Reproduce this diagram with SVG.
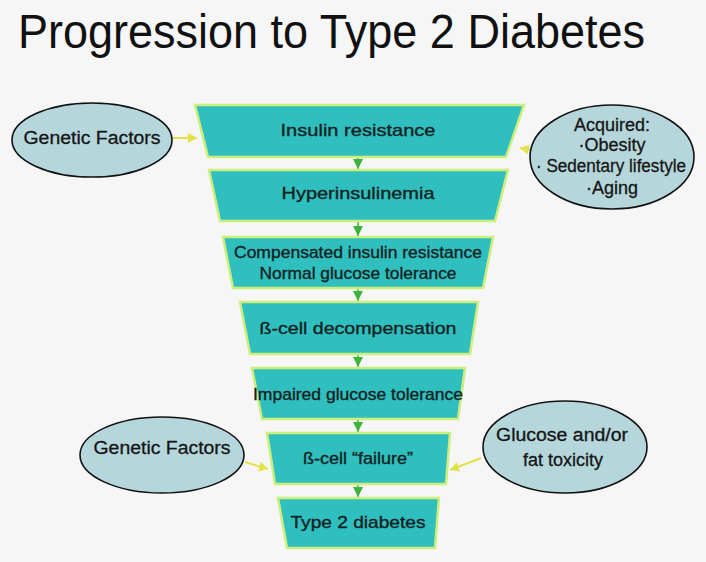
<svg xmlns="http://www.w3.org/2000/svg" width="706" height="562" viewBox="0 0 706 562">
<style>
.bg{fill:#f6f6f6}
.title{font-family:"Liberation Sans",Arial,sans-serif;font-size:48px;fill:#111}
.box{fill:#30bfbf;stroke:#cdee7a;stroke-width:2.5;stroke-linejoin:miter}
.bt{font-family:"Liberation Sans",Arial,sans-serif;font-size:17px;fill:#132222;text-anchor:middle;dominant-baseline:central;stroke:#132222;stroke-width:0.35}
.ell{fill:#b5d7dc;stroke:#111;stroke-width:1.6}
.et{font-family:"Liberation Sans",Arial,sans-serif;font-size:18px;fill:#151515;text-anchor:middle;dominant-baseline:central;stroke:#151515;stroke-width:0.3}
.g{stroke:#3cb43c;stroke-width:1.5;fill:none}
.y{stroke:#e2e24a;stroke-width:2;fill:none}
</style>
<defs>
<marker id="ag" markerUnits="userSpaceOnUse" markerWidth="12" markerHeight="12" refX="10" refY="5" orient="auto">
<path d="M0,0 L10,5 L0,10 Z" fill="#3cb43c"/>
</marker>
<marker id="ay" markerUnits="userSpaceOnUse" markerWidth="12" markerHeight="12" refX="9" refY="5" orient="auto">
<path d="M0,0 L9,5 L0,10 Z" fill="#e2e24a"/>
</marker>
</defs>
<rect class="bg" x="0" y="0" width="706" height="562"/>
<text class="title" x="18" y="48" textLength="627" lengthAdjust="spacingAndGlyphs">Progression to Type 2 Diabetes</text>

<g id="connectors">
<line class="g" x1="358" y1="157" x2="358" y2="169" marker-end="url(#ag)"/>
<line class="g" x1="358" y1="221" x2="358" y2="236" marker-end="url(#ag)"/>
<line class="g" x1="358" y1="288" x2="358" y2="301" marker-end="url(#ag)"/>
<line class="g" x1="358" y1="354" x2="358" y2="367" marker-end="url(#ag)"/>
<line class="g" x1="358" y1="419" x2="358" y2="432" marker-end="url(#ag)"/>
<line class="g" x1="358" y1="484" x2="358" y2="497" marker-end="url(#ag)"/>
<line class="y" x1="173" y1="138" x2="197" y2="138" marker-end="url(#ay)"/>
<line class="y" x1="531" y1="150" x2="520" y2="148" marker-end="url(#ay)"/>
<line class="y" x1="245" y1="462" x2="268" y2="469" marker-end="url(#ay)"/>
<line class="y" x1="481" y1="458" x2="450" y2="470" marker-end="url(#ay)"/>
</g>

<g id="n1"><polygon class="box" points="195,105 524,105 506,157 208,157"/><text class="bt" x="358" y="130" textLength="155" lengthAdjust="spacingAndGlyphs">Insulin resistance</text></g>
<g id="n2"><polygon class="box" points="209,170 508,170 495,221 220,221"/><text class="bt" x="358" y="193" textLength="153" lengthAdjust="spacingAndGlyphs">Hyperinsulinemia</text></g>
<g id="n3"><polygon class="box" points="223,237 493,237 483,288 233,288"/><text class="bt" x="358" y="252" textLength="248" lengthAdjust="spacingAndGlyphs">Compensated insulin resistance</text><text class="bt" x="358" y="273" textLength="197" lengthAdjust="spacingAndGlyphs">Normal glucose tolerance</text></g>
<g id="n4"><polygon class="box" points="240,302 478,302 470,354 250,354"/><text class="bt" x="358" y="328" textLength="197" lengthAdjust="spacingAndGlyphs">ß-cell decompensation</text></g>
<g id="n5"><polygon class="box" points="252,368 465,368 458,419 262,419"/><text class="bt" x="358" y="394" textLength="210" lengthAdjust="spacingAndGlyphs">Impaired glucose tolerance</text></g>
<g id="n6"><polygon class="box" points="267,433 450,433 446,484 275,484"/><text class="bt" x="358" y="458" textLength="110" lengthAdjust="spacingAndGlyphs">ß-cell “failure”</text></g>
<g id="n7"><polygon class="box" points="278,498 439,498 435,548 287,548"/><text class="bt" x="358" y="522" textLength="135" lengthAdjust="spacingAndGlyphs">Type 2 diabetes</text></g>

<g id="e1"><ellipse class="ell" cx="92" cy="140" rx="80" ry="37"/><text class="et" x="92" y="138" textLength="137" lengthAdjust="spacingAndGlyphs">Genetic Factors</text></g>
<g id="e2"><ellipse class="ell" cx="612" cy="157" rx="82" ry="52"/>
<text class="et" x="612" y="125" font-size="17">Acquired:</text>
<text class="et" x="612" y="145" font-size="17">·Obesity</text>
<text class="et" x="611" y="166" font-size="17" textLength="150" lengthAdjust="spacingAndGlyphs">· Sedentary lifestyle</text>
<text class="et" x="612" y="188" font-size="17">·Aging</text></g>
<g id="e3"><ellipse class="ell" cx="162" cy="455" rx="82" ry="38"/><text class="et" x="162" y="448" textLength="137" lengthAdjust="spacingAndGlyphs">Genetic Factors</text></g>
<g id="e4"><ellipse class="ell" cx="565" cy="447" rx="82" ry="46"/><text class="et" x="562" y="435" textLength="132" lengthAdjust="spacingAndGlyphs">Glucose and/or</text><text class="et" x="563" y="460">fat toxicity</text></g>
</svg>
